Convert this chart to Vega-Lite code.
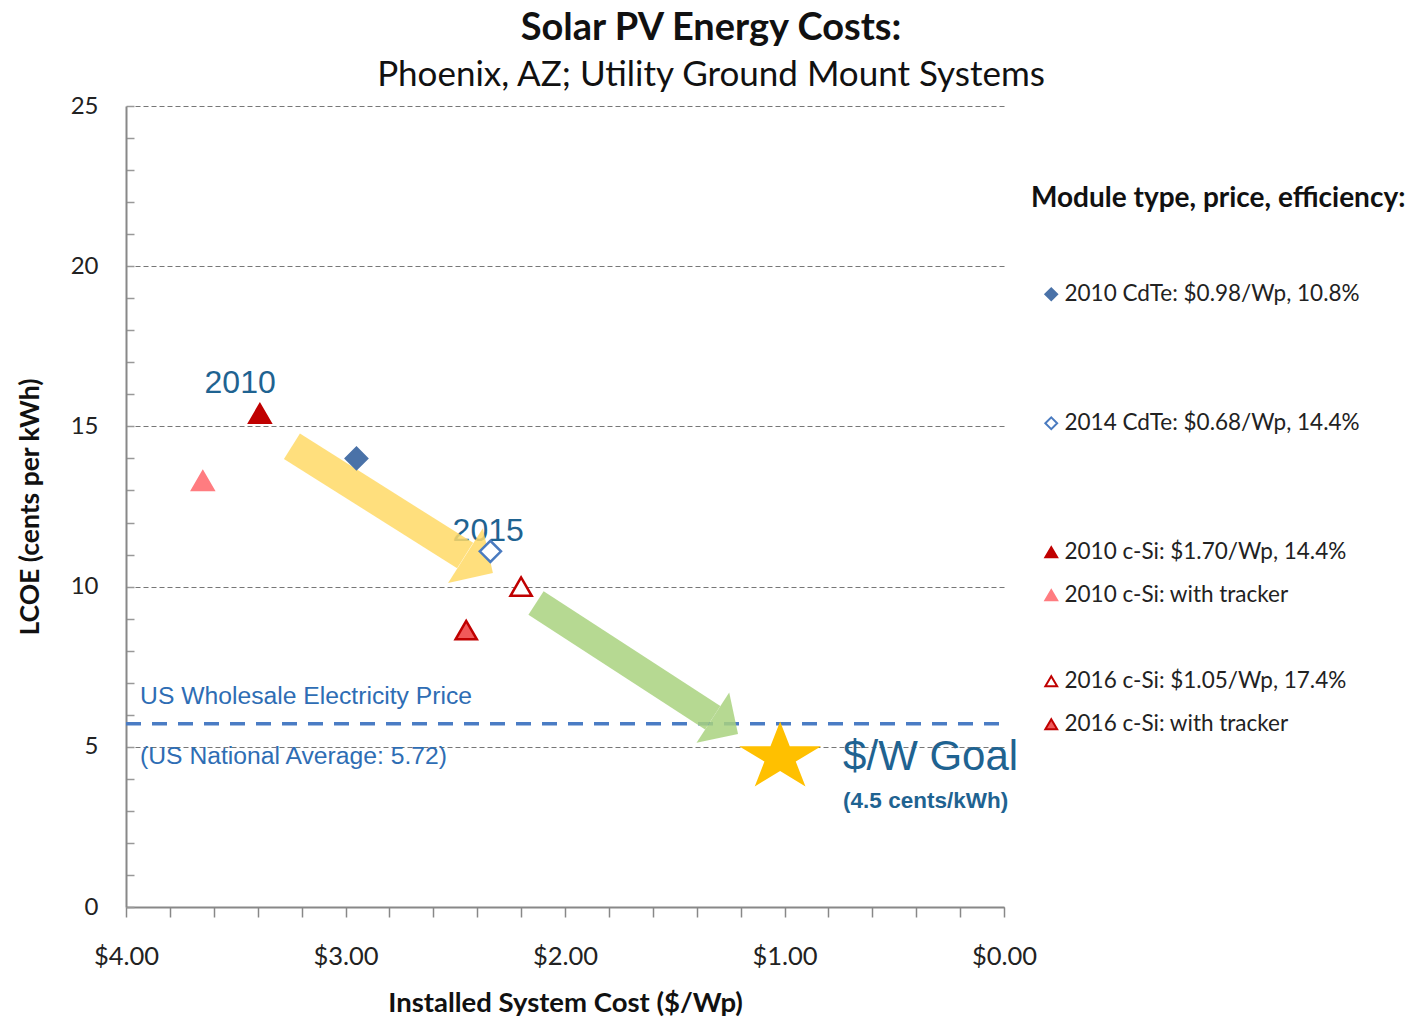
{
  "$schema": "https://vega.github.io/schema/vega-lite/v6.json",
  "width": 878,
  "height": 801,
  "autosize": "none",
  "padding": {"left": 126, "top": 106, "right": 421, "bottom": 113},
  "background": "white",
  "title": {
    "text": "Solar PV Energy Costs:",
    "subtitle": "Phoenix, AZ; Utility Ground Mount Systems",
    "font": "Lato",
    "fontSize": 38,
    "fontWeight": "bold",
    "color": "#111111",
    "subtitleFont": "Lato",
    "subtitleFontSize": 35,
    "subtitleColor": "#111111",
    "subtitlePadding": 10,
    "anchor": "middle",
    "frame": "group",
    "dx": 146,
    "offset": 1
  },
  "config": {
    "view": {"stroke": null},
    "font": "Lato"
  },
  "datasets": {
    "points": [
      {"series": "2010 CdTe: $0.98/Wp, 10.8%", "x": 2.95, "y": 14.0},
      {"series": "2014 CdTe: $0.68/Wp, 14.4%", "x": 2.34, "y": 11.1},
      {"series": "2010 c-Si: $1.70/Wp, 14.4%", "x": 3.39, "y": 15.4},
      {"series": "2010 c-Si: with tracker", "x": 3.65, "y": 13.3},
      {"series": "2016 c-Si: $1.05/Wp, 17.4%", "x": 2.2, "y": 10.0},
      {"series": "2016 c-Si: with tracker", "x": 2.45, "y": 8.64}
    ],
    "shafts": [
      {"arrow": "yellow", "x": 3.244, "y": 14.38, "x2": 2.455, "y2": 10.97},
      {"arrow": "green", "x": 2.132, "y": 9.485, "x2": 1.327, "y2": 5.908}
    ],
    "heads": [
      {"arrow": "yellow", "x": 2.391, "y": 10.696},
      {"arrow": "green", "x": 1.269, "y": 5.653}
    ]
  },
  "encoding": {
    "x": {
      "field": "x",
      "type": "quantitative",
      "scale": {"domain": [0, 4], "reverse": true, "nice": false, "zero": false},
      "axis": {
        "title": "Installed System Cost  ($/Wp)",
        "titleFont": "Lato",
        "titleFontSize": 27.5,
        "titleFontWeight": "bold",
        "titleColor": "#111111",
        "titlePadding": 20,
        "values": [0, 0.2, 0.4, 0.6, 0.8, 1, 1.2, 1.4, 1.6, 1.8, 2, 2.2, 2.4, 2.6, 2.8, 3, 3.2, 3.4, 3.6, 3.8, 4],
        "labelExpr": "abs(datum.value - round(datum.value)) < 0.01 ? format(datum.value, '$.2f') : ''",
        "labelFont": "Lato",
        "labelFontSize": 25.5,
        "labelColor": "#222222",
        "labelPadding": 27,
        "labelOverlap": false,
        "labelFlush": false,
        "tickSize": 10,
        "tickColor": "#888888",
        "tickWidth": 1.5,
        "domainColor": "#888888",
        "domainWidth": 2,
        "grid": false
      }
    },
    "y": {
      "field": "y",
      "type": "quantitative",
      "scale": {"domain": [0, 25], "nice": false},
      "axis": {
        "title": "LCOE (cents per kWh)",
        "titleFont": "Lato",
        "titleFontSize": 26.5,
        "titleFontWeight": "bold",
        "titleColor": "#111111",
        "titlePadding": 26,
        "values": [0, 1, 2, 3, 4, 5, 6, 7, 8, 9, 10, 11, 12, 13, 14, 15, 16, 17, 18, 19, 20, 21, 22, 23, 24, 25],
        "labelExpr": "datum.value % 5 === 0 ? datum.label : ''",
        "labelFont": "Lato",
        "labelFontSize": 24,
        "labelColor": "#222222",
        "labelPadding": 36,
        "labelOverlap": false,
        "labelFlush": false,
        "tickSize": -8,
        "tickColor": "#999999",
        "tickWidth": 1.5,
        "domainColor": "#888888",
        "domainWidth": 2,
        "grid": true,
        "gridColor": "#777777",
        "gridWidth": 1.2,
        "gridDash": [5, 3],
        "gridOpacity": {"condition": {"test": "datum.value % 5 === 0", "value": 1}, "value": 0}
      }
    }
  },
  "layer": [
    {
      "data": {"values": [{"x": 4, "x2": 0, "y": 5.72}]},
      "mark": {"type": "rule", "color": "#4a7cc4", "strokeWidth": 3.5, "strokeDash": [15, 11]},
      "encoding": {
        "x2": {"field": "x2"}
      }
    },
    {
      "data": {"values": [{"label": "2010", "x": 3.48, "y": 16.35}, {"label": "2015", "x": 2.35, "y": 11.73}]},
      "mark": {"type": "text", "font": "Liberation Sans Narrow, Liberation Sans, sans-serif", "fontSize": 32, "color": "#1f6391", "align": "center", "baseline": "middle"},
      "encoding": {
        "text": {"field": "label"}
      }
    },
    {
      "data": {"name": "shafts"},
      "transform": [{"filter": "datum.arrow === 'yellow'"}],
      "mark": {"type": "rule", "color": "#ffd966", "strokeWidth": 30, "opacity": 0.85, "strokeCap": "butt"},
      "encoding": {
        "x2": {"field": "x2"},
        "y2": {"field": "y2"}
      }
    },
    {
      "data": {"name": "heads"},
      "transform": [{"filter": "datum.arrow === 'yellow'"}],
      "mark": {"type": "point", "shape": "M-0.5,-1L0.5,0L-0.5,1Z", "size": 4225, "angle": 32.3, "filled": true, "fill": "#ffd966", "strokeWidth": 0, "opacity": 0.85}
    },
    {
      "data": {"name": "shafts"},
      "transform": [{"filter": "datum.arrow === 'green'"}],
      "mark": {"type": "rule", "color": "#a9d27f", "strokeWidth": 28, "opacity": 0.85, "strokeCap": "butt"},
      "encoding": {
        "x2": {"field": "x2"},
        "y2": {"field": "y2"}
      }
    },
    {
      "data": {"name": "heads"},
      "transform": [{"filter": "datum.arrow === 'green'"}],
      "mark": {"type": "point", "shape": "M-0.5,-1L0.5,0L-0.5,1Z", "size": 3600, "angle": 33, "filled": true, "fill": "#a9d27f", "strokeWidth": 0, "opacity": 0.85}
    },
    {
      "data": {"name": "points"},
      "mark": {"type": "point", "filled": true, "opacity": 1, "strokeWidth": 2.5, "size": 450},
      "encoding": {
        "fill": {
          "field": "series",
          "type": "nominal",
          "scale": {
            "domain": ["2010 CdTe: $0.98/Wp, 10.8%", " ", "  ", "2014 CdTe: $0.68/Wp, 14.4%", "   ", "    ", "2010 c-Si: $1.70/Wp, 14.4%", "2010 c-Si: with tracker", "     ", "2016 c-Si: $1.05/Wp, 17.4%", "2016 c-Si: with tracker"],
            "range": ["#4a72a8", "transparent", "transparent", "#ffffff", "transparent", "transparent", "#c00000", "#ff7c80", "transparent", "#ffffff", "#f05a5a"]
          },
          "legend": {
            "title": "Module type, price, efficiency:",
            "orient": "none",
            "legendX": 905,
            "legendY": 79,
            "titleFont": "Lato",
            "titleFontSize": 28,
            "titleFontWeight": "bold",
            "titleColor": "#111111",
            "titleLimit": 600,
            "titlePadding": 70,
            "labelFont": "Lato",
            "labelFontSize": 22.5,
            "labelColor": "#222222",
            "labelLimit": 600,
            "labelOffset": 2,
            "rowPadding": 20,
            "symbolSize": 140,
            "symbolStrokeWidth": 2,
            "symbolOffset": 9
          }
        },
        "stroke": {
          "field": "series",
          "type": "nominal",
          "scale": {
            "domain": ["2010 CdTe: $0.98/Wp, 10.8%", " ", "  ", "2014 CdTe: $0.68/Wp, 14.4%", "   ", "    ", "2010 c-Si: $1.70/Wp, 14.4%", "2010 c-Si: with tracker", "     ", "2016 c-Si: $1.05/Wp, 17.4%", "2016 c-Si: with tracker"],
            "range": ["#4a72a8", "transparent", "transparent", "#4a7bc0", "transparent", "transparent", "#c00000", "#ff7c80", "transparent", "#c00000", "#c00000"]
          },
          "legend": {
            "title": "Module type, price, efficiency:",
            "orient": "none",
            "legendX": 905,
            "legendY": 79
          }
        },
        "shape": {
          "field": "series",
          "type": "nominal",
          "scale": {
            "domain": ["2010 CdTe: $0.98/Wp, 10.8%", " ", "  ", "2014 CdTe: $0.68/Wp, 14.4%", "   ", "    ", "2010 c-Si: $1.70/Wp, 14.4%", "2010 c-Si: with tracker", "     ", "2016 c-Si: $1.05/Wp, 17.4%", "2016 c-Si: with tracker"],
            "range": ["diamond", "circle", "circle", "diamond", "circle", "circle", "triangle-up", "triangle-up", "circle", "triangle-up", "triangle-up"]
          },
          "legend": {
            "title": "Module type, price, efficiency:",
            "orient": "none",
            "legendX": 905,
            "legendY": 79
          }
        }
      }
    },
    {
      "data": {"values": [{"goal": "$/W Goal", "x": 1.02, "y": 4.67}]},
      "mark": {"type": "point", "shape": "M0,-1L0.269,-0.309L1.141,-0.309L0.436,0.118L0.706,0.809L0,0.382L-0.706,0.809L-0.436,0.118L-1.141,-0.309L-0.269,-0.309Z", "size": 5170, "filled": true, "fill": "#ffc000", "strokeWidth": 0, "opacity": 1}
    },
    {
      "data": {"values": [{"label": "$/W Goal", "x": 0.733, "y": 4.68}]},
      "mark": {"type": "text", "font": "Liberation Sans Narrow, Liberation Sans, sans-serif", "fontSize": 42, "color": "#1f6391", "align": "left", "baseline": "middle"},
      "encoding": {
        "text": {"field": "label"}
      }
    },
    {
      "data": {"values": [{"label": "(4.5 cents/kWh)", "x": 0.733, "y": 3.31}]},
      "mark": {"type": "text", "font": "Liberation Sans Narrow, Liberation Sans, sans-serif", "fontSize": 22.5, "fontWeight": "bold", "color": "#1f6391", "align": "left", "baseline": "middle"},
      "encoding": {
        "text": {"field": "label"}
      }
    },
    {
      "data": {"values": [{"label": "US Wholesale Electricity Price", "x": 3.936, "y": 6.55}, {"label": "(US National Average: 5.72)", "x": 3.936, "y": 4.68}]},
      "mark": {"type": "text", "font": "Liberation Sans, Arial, sans-serif", "fontSize": 24.7, "color": "#2e6db4", "align": "left", "baseline": "middle"},
      "encoding": {
        "text": {"field": "label"}
      }
    }
  ]
}
